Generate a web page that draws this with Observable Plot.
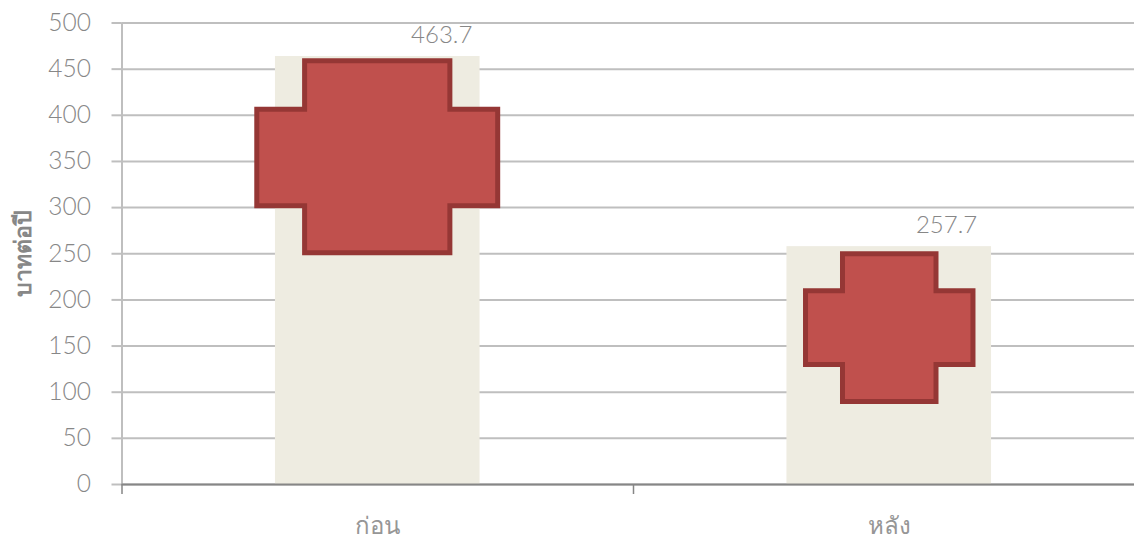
<!DOCTYPE html>
<html><head><meta charset="utf-8">
<script src="https://cdn.jsdelivr.net/npm/d3@7"></script>
<script src="https://cdn.jsdelivr.net/npm/@observablehq/plot@0.6"></script>
<style>html,body{margin:0;padding:0;background:#fff;overflow:hidden}svg{display:block}</style>
</head><body><div id="chart"></div>
<script>
const categories = ["ก่อน", "หลัง"];
const centers = [0.5, 1.5];
const crossCenters = [0.499, 1.5];
const barValues = [463.7, 257.7];
const barHalfWidth = 0.2;
const labelCenters = [0.625, 1.612];
const yTicks = [0,50,100,150,200,250,300,350,400,450,500];
const xTicks = [0,1,2];
const crossTop = [459, 250];
const crossBottom = [251, 90];
const armTop = [406.5, 210];
const armBottom = [302, 130];
const armHalf = [0.2355, 0.1637];
const stemHalf = [0.142, 0.0914];

const bars = categories.map((c,i)=>({c, x1:centers[i]-barHalfWidth, x2:centers[i]+barHalfWidth, v:barValues[i], lx:labelCenters[i]}));
const crosses = categories.flatMap((c,i)=>{
  const m=crossCenters[i], a=armHalf[i], s=stemHalf[i];
  return [[m-s,crossTop[i]],[m+s,crossTop[i]],[m+s,armTop[i]],[m+a,armTop[i]],[m+a,armBottom[i]],[m+s,armBottom[i]],
          [m+s,crossBottom[i]],[m-s,crossBottom[i]],[m-s,armBottom[i]],[m-a,armBottom[i]],[m-a,armTop[i]],[m-s,armTop[i]]]
    .map(([x,y])=>({c,x,y}));
});
const font = "Lato, 'Noto Sans', sans-serif";
const grey = "#878787";
const plot = Plot.plot({
  width:1134, height:538,
  marginLeft:121.5, marginRight:0, marginTop:22.5, marginBottom:54,
  style:{fontFamily:font, background:"#fff"},
  x:{domain:[0,2], range:[121.5,1144.5]},
  y:{domain:[0,500], range:[484,22.5]},
  marks:[
    Plot.gridY(yTicks,{stroke:"#bfbfbf", strokeWidth:2, strokeOpacity:1}),
    Plot.rectY(bars,{x1:"x1",x2:"x2",y1:0,y2:"v",fill:"#eeece1"}),
    Plot.ruleX([0],{y1:0,y2:500,stroke:"#bfbfbf",strokeWidth:2}),
    Plot.axisY({ticks:yTicks, tickSize:10, tickFormat:()=>"", stroke:"#bfbfbf", strokeWidth:2, label:null}),
    Plot.axisY({ticks:yTicks, tickSize:0, tickPadding:31, fill:grey, fontSize:24.5, fontWeight:300, label:null}),
    Plot.ruleY([0],{stroke:"#868686",strokeWidth:2}),
    Plot.axisX({ticks:xTicks, tickSize:10, tickFormat:()=>"", stroke:"#868686", strokeWidth:1.5, label:null}),
    Plot.text(categories,{x:centers, y:0, dy:42, fill:"#969696", fontSize:24, fontWeight:300, text:d=>d}),
    Plot.line(crosses,{x:"x",y:"y",z:"c",fill:"#c0504d",stroke:"#953735",strokeWidth:5,curve:"linear-closed",strokeLinejoin:"miter",strokeMiterlimit:4}),
    Plot.text(bars,{x:"lx",y:"v",text:d=>d.v.toFixed(1),dy:-21,fill:grey,fontSize:24,fontWeight:300}),
    Plot.text(["บาทต่อปี"],{frameAnchor:"left",dx:-98,rotate:-90,textAnchor:"middle",fill:grey,fontSize:23,fontWeight:"bold",text:d=>d})
  ]
});
document.getElementById("chart").append(plot);
</script></body></html>
